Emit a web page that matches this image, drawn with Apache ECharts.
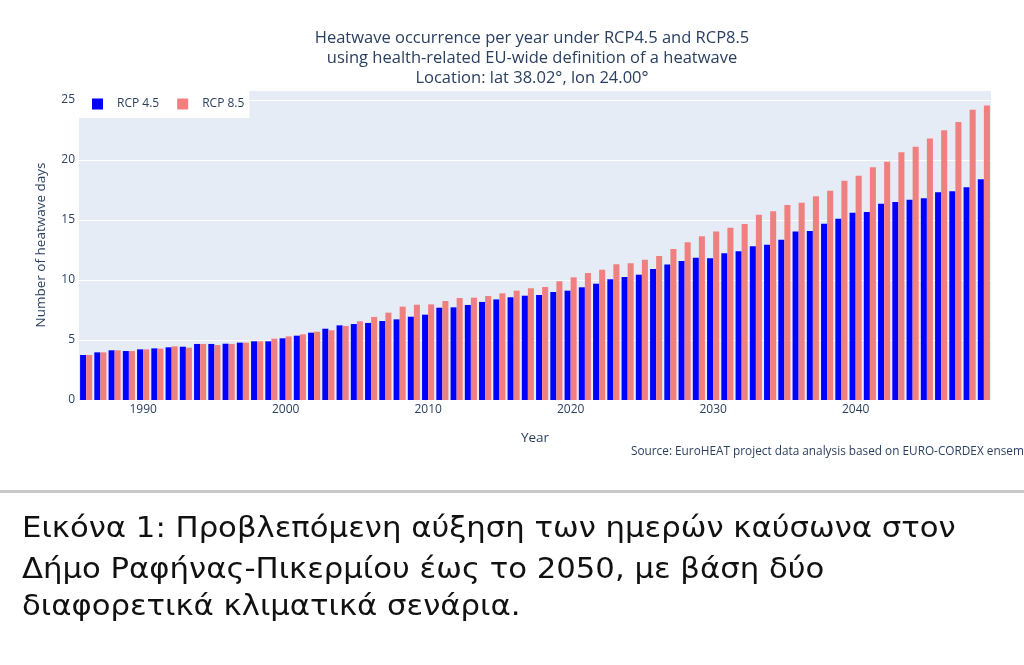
<!DOCTYPE html>
<html>
<head>
<meta charset="utf-8">
<title>Heatwave occurrence</title>
<script src="https://cdn.jsdelivr.net/npm/echarts@6/dist/echarts.min.js"></script>
<style>
  html, body { margin: 0; padding: 0; background: #fff; }
  #chart { width: 1024px; height: 665px; }
</style>
</head>
<body>
<div id="chart"></div>
<script>
const years = [
  1986, 1987, 1988, 1989, 1990, 1991, 1992, 1993, 1994, 1995,
  1996, 1997, 1998, 1999, 2000, 2001, 2002, 2003, 2004, 2005,
  2006, 2007, 2008, 2009, 2010, 2011, 2012, 2013, 2014, 2015,
  2016, 2017, 2018, 2019, 2020, 2021, 2022, 2023, 2024, 2025,
  2026, 2027, 2028, 2029, 2030, 2031, 2032, 2033, 2034, 2035,
  2036, 2037, 2038, 2039, 2040, 2041, 2042, 2043, 2044, 2045,
  2046, 2047, 2048, 2049
]

// RCP 4.5 (blue)
const rcp45 = [
  3.75, 3.97, 4.14, 4.08, 4.22, 4.30, 4.39, 4.44, 4.67, 4.67,
  4.69, 4.78, 4.89, 4.89, 5.14, 5.36, 5.61, 5.94, 6.22, 6.33,
  6.42, 6.58, 6.72, 6.94, 7.11, 7.69, 7.72, 7.92, 8.17, 8.38,
  8.56, 8.69, 8.75, 9.00, 9.11, 9.39, 9.69, 10.06, 10.25, 10.44,
  10.92, 11.28, 11.58, 11.86, 11.81, 12.22, 12.39, 12.81, 12.94, 13.36,
  14.03, 14.08, 14.69, 15.10, 15.60, 15.67, 16.36, 16.50, 16.69, 16.81,
  17.31, 17.39, 17.72, 18.39
]

// RCP 8.5 (red)
const rcp85 = [
  3.75, 3.97, 4.14, 4.08, 4.22, 4.28, 4.47, 4.36, 4.67, 4.58,
  4.67, 4.78, 4.89, 5.11, 5.30, 5.47, 5.69, 5.81, 6.17, 6.56,
  6.92, 7.28, 7.78, 7.94, 7.97, 8.25, 8.50, 8.53, 8.67, 8.89,
  9.11, 9.31, 9.42, 9.89, 10.22, 10.58, 10.86, 11.31, 11.39, 11.69,
  12.00, 12.58, 13.14, 13.65, 14.03, 14.36, 14.67, 15.44, 15.72, 16.25,
  16.44, 16.97, 17.44, 18.27, 18.69, 19.39, 19.86, 20.64, 21.11, 21.78,
  22.47, 23.17, 24.19, 24.53
]

const titleLines = [
  'Heatwave occurrence per year under RCP4.5 and RCP8.5',
  'using health-related EU-wide definition of a heatwave',
  'Location: lat 38.02°, lon 24.00°'
]
const sourceNote = 'Source: EuroHEAT project data analysis based on EURO-CORDEX ensemble'
const captionLines = [
  'Εικόνα 1: Προβλεπόμενη αύξηση των ημερών καύσωνα στον',
  'Δήμο Ραφήνας-Πικερμίου έως το 2050, με βάση δύο',
  'διαφορετικά κλιματικά σενάρια.'
]

const fontFamily = '"Open Sans", sans-serif'
const textColor = '#2a3f5f'
const captionFont = '27.5px "DejaVu Sans", sans-serif'

// caption text looks a bit stretched sideways in the source image
function captionLine(text, y) {
  return {
    type: 'text',
    x: 22,
    y: y,
    scaleX: 1.117,
    style: { text: text, font: captionFont, fill: '#111', verticalAlign: 'middle' }
  }
}

const chart = echarts.init(document.getElementById('chart'))

chart.setOption({
  animation: false,
  title: {
    text: titleLines.join('\n'),
    left: 527,
    top: 23,
    textAlign: 'center',
    textStyle: {
      fontFamily: fontFamily,
      fontSize: 16.5,
      fontWeight: 'normal',
      color: textColor,
      lineHeight: 20
    }
  },
  legend: {
    left: 79,
    top: 90,
    padding: [8, 5, 8, 13],
    itemGap: 18,
    itemWidth: 11,
    itemHeight: 11,
    icon: 'rect',
    backgroundColor: '#fff',
    textStyle: {
      fontFamily: fontFamily,
      fontSize: 12,
      color: textColor,
      padding: [0, 0, 0, 9]
    },
    data: ['RCP 4.5', 'RCP 8.5']
  },
  grid: {
    left: 79,
    right: 33,
    top: 90,
    bottom: 265,
    show: true,
    backgroundColor: '#E5ECF6',
    borderWidth: 0
  },
  xAxis: {
    type: 'category',
    data: years,
    name: 'Year',
    nameLocation: 'middle',
    nameGap: 31,
    nameTextStyle: { fontFamily: fontFamily, fontSize: 13.5, color: textColor },
    axisLine: { show: false },
    axisTick: { show: false },
    axisLabel: {
      fontFamily: fontFamily,
      fontSize: 12,
      color: textColor,
      margin: 4,
      interval: (index, value) => Number(value) % 10 === 0
    }
  },
  yAxis: {
    type: 'value',
    min: 0,
    max: 25.83,
    interval: 5,
    name: 'Number of heatwave days',
    nameLocation: 'middle',
    nameGap: 31,
    nameTextStyle: { fontFamily: fontFamily, fontSize: 13.5, color: textColor },
    axisLabel: {
      fontFamily: fontFamily,
      fontSize: 12,
      color: textColor,
      margin: 4,
      showMaxLabel: false
    },
    splitLine: { lineStyle: { color: '#fff', width: 1 } }
  },
  series: [
    {
      name: 'RCP 4.5',
      type: 'bar',
      data: rcp45,
      barGap: '0%',
      barCategoryGap: '15%',
      itemStyle: { color: '#0000FF' }
    },
    {
      name: 'RCP 8.5',
      type: 'bar',
      data: rcp85,
      barGap: '0%',
      barCategoryGap: '15%',
      itemStyle: { color: '#F08080' }
    }
  ],
  graphic: [
    {
      type: 'text',
      left: 631,
      top: 446,
      style: { text: sourceNote, font: '11.8px "Open Sans", sans-serif', fill: textColor }
    },
    {
      type: 'rect',
      left: 0,
      top: 490,
      shape: { width: 1024, height: 3 },
      style: { fill: '#c8c8c8' }
    },
    captionLine(captionLines[0], 530),
    captionLine(captionLines[1], 571),
    captionLine(captionLines[2], 608)
  ]
})
</script>
</body>
</html>
